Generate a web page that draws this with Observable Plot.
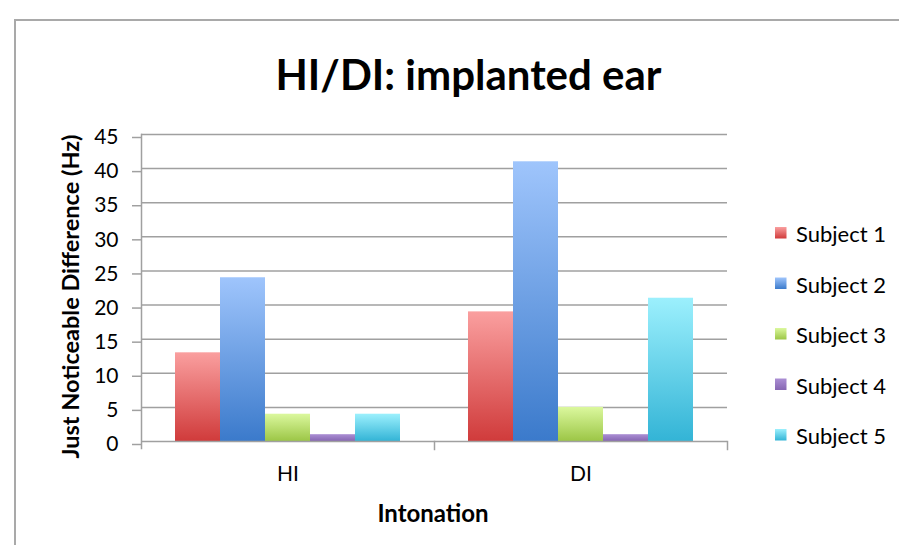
<!DOCTYPE html>
<html>
<head>
<meta charset="utf-8">
<script src="https://cdn.jsdelivr.net/npm/d3@7"></script>
<script src="https://cdn.jsdelivr.net/npm/@observablehq/plot@0.6"></script>
<style>
  html, body { margin: 0; padding: 0; background: #fff; }
  #wrap { position: relative; width: 899px; height: 545px; overflow: hidden; }
  #wrap svg { position: absolute; left: 0; top: 0; }
</style>
</head>
<body>
<div id="wrap"></div>
<script>
// ---- data ----
const groups = ["HI", "DI"];
const subjects = ["Subject 1", "Subject 2", "Subject 3", "Subject 4", "Subject 5"];
const hiValues = [13, 24, 4, 1, 4];
const diValues = [19, 41, 5, 1, 21];
const yTicks = [0, 5, 10, 15, 20, 25, 30, 35, 40, 45];
const titleText = "HI/DI: implanted ear";
const yLabel = "Just Noticeable Difference (Hz)";
const xLabel = "Intonation";

// ---- styles ----
const gradStops = [
  ["#fa9f9f", "#d03b3b"],
  ["#9fc5fc", "#3b7acb"],
  ["#dbf89e", "#9cc646"],
  ["#ab8fd4", "#8666b2"],
  ["#9cf0fd", "#33b4d6"]
];
const gridColor = "#a0a0a0";

const data = groups.flatMap((g, gi) =>
  subjects.map((s, si) => ({ group: g, subject: s, value: [hiValues, diValues][gi][si] }))
);

const W = 899, H = 545;
const mL = 140, mR = 172, mT = 134, mB = 104;
const plotH = H - mT - mB;

const chart = Plot.plot({
  width: W, height: H,
  marginLeft: mL, marginRight: mR, marginTop: mT, marginBottom: mB,
  style: { fontFamily: "Lato", fontSize: "20px", color: "#000", background: "transparent", overflow: "visible" },
  fx: { domain: groups, paddingInner: 0, paddingOuter: 0, label: null, axis: null },
  x: { domain: subjects, paddingInner: 0, paddingOuter: 0.75, axis: null },
  y: { domain: [0, 45], axis: null },
  color: { domain: subjects, range: subjects.map((s, i) => `url(#grad${i})`) },
  marks: [
    Plot.ruleY(yTicks.slice(1), { stroke: gridColor, strokeWidth: 1.5 }),
    Plot.barY(data, { fx: "group", x: "subject", y: "value", fill: "subject" }),
    Plot.ruleY([0], { stroke: gridColor, strokeWidth: 1.5 }),
    Plot.axisY({ ticks: yTicks, tickSize: 9, tickPadding: 14, label: null, stroke: gridColor, strokeWidth: 1.5, fill: "#000", fontSize: 21, dy: 3 }),
    Plot.axisFx({ anchor: "bottom", tickSize: 0, tickPadding: 25, label: null, fill: "#000", fontSize: 21 }),
    Plot.frame({ anchor: "left", facetAnchor: "left", stroke: gridColor, strokeWidth: 1.5, insetBottom: -7 }),
    Plot.frame({ anchor: "right", stroke: gridColor, strokeWidth: 1.5, insetTop: plotH, insetBottom: -8 })
  ]
});

const wrap = document.getElementById("wrap");
wrap.appendChild(chart);

// gradients
const svg = d3.select(chart);
const defs = svg.insert("defs", ":first-child");
gradStops.forEach((c, i) => {
  const lg = defs.append("linearGradient").attr("id", `grad${i}`)
    .attr("x1", 0).attr("y1", 0).attr("x2", 0).attr("y2", 1);
  lg.append("stop").attr("offset", "0%").attr("stop-color", c[0]);
  lg.append("stop").attr("offset", "100%").attr("stop-color", c[1]);
});

// overlay: border, titles, legend
const ov = d3.select(wrap).append("svg").attr("width", W).attr("height", H)
  .style("font-family", "Lato");
ov.append("path").attr("d", `M15,${H} L15,20 L${W},20`)
  .attr("fill", "none").attr("stroke", "#a9a9a9").attr("stroke-width", 2);

ov.append("text").attr("x", 468.5).attr("y", 90).attr("text-anchor", "middle")
  .attr("font-weight", "bold").attr("font-size", 42).text(titleText);

ov.append("text").attr("transform", `translate(79,${mT + plotH / 2 + 9}) rotate(-90)`)
  .attr("text-anchor", "middle").attr("font-weight", "bold").attr("font-size", 23.5).text(yLabel);

ov.append("text").attr("x", 433).attr("y", 522).attr("text-anchor", "middle")
  .attr("font-weight", "bold").attr("font-size", 24).text(xLabel);

const ovDefs = ov.append("defs");
gradStops.forEach((c, i) => {
  const lg = ovDefs.append("linearGradient").attr("id", `lgrad${i}`)
    .attr("x1", 0).attr("y1", 0).attr("x2", 0).attr("y2", 1);
  lg.append("stop").attr("offset", "0%").attr("stop-color", c[0]);
  lg.append("stop").attr("offset", "100%").attr("stop-color", c[1]);
});
const leg = ov.append("g");
subjects.forEach((s, i) => {
  const y0 = 227 + i * 50.5;
  leg.append("rect").attr("x", 775).attr("y", y0).attr("width", 11.5).attr("height", 11.5)
    .attr("fill", `url(#lgrad${i})`);
  leg.append("text").attr("x", 796).attr("y", y0 + 15.3).attr("font-size", 22).text(s);
});
</script>
</body>
</html>
